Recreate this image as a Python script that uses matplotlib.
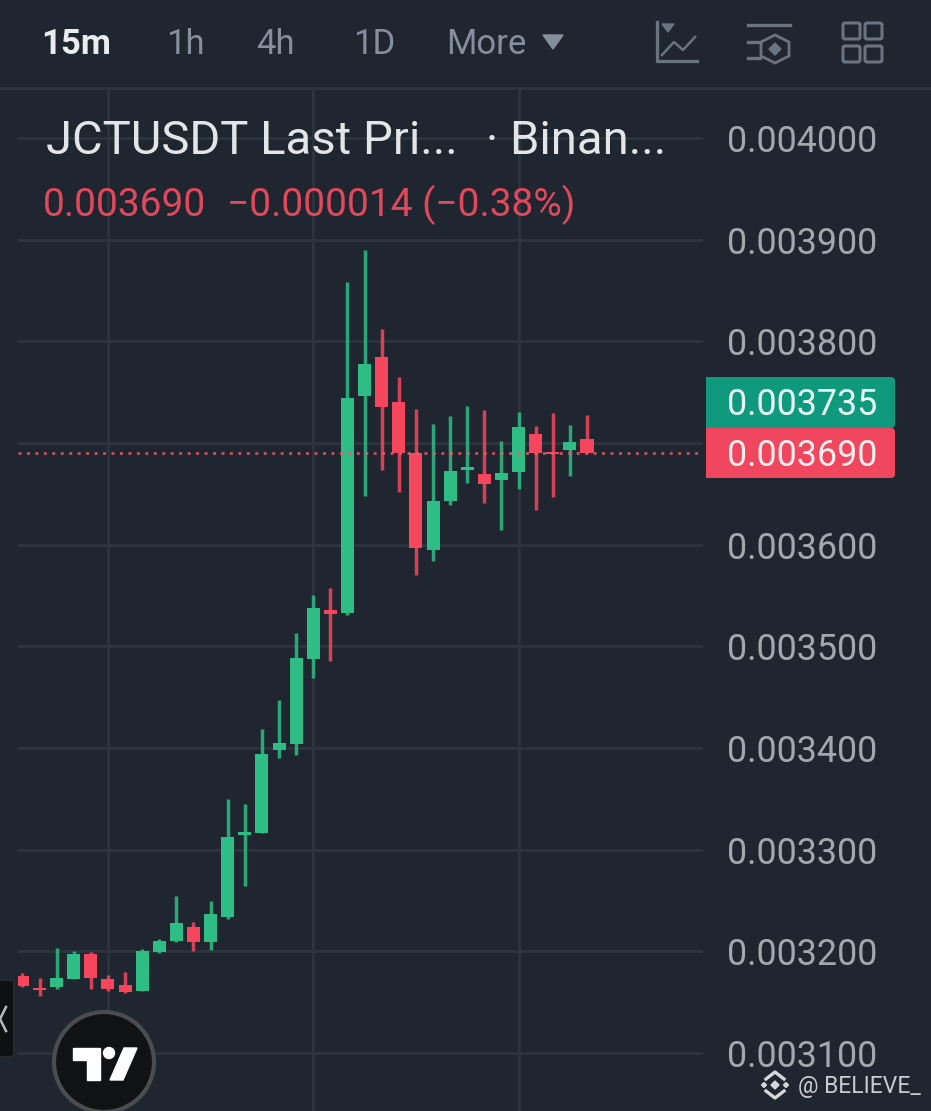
import numpy as np
import matplotlib
matplotlib.use('Agg')
import matplotlib.pyplot as plt
from matplotlib.patches import Circle, FancyBboxPatch, Polygon, Rectangle

plt.rcParams['font.family'] = ['Roboto', 'DejaVu Sans']

# prices in millionths of USDT
opens = [3176, 3164, 3165, 3173, 3197, 3173, 3167, 3161, 3199, 3210, 3224, 3209,
         3234, 3314, 3316, 3398, 3404, 3487, 3536, 3533, 3746, 3784, 3740, 3690,
         3595, 3643, 3673, 3669, 3664, 3671, 3709, 3691, 3693, 3704]
closes = [3166, 3162, 3174, 3197, 3174, 3163, 3160, 3200, 3210, 3228, 3209, 3237,
          3312, 3317, 3394, 3405, 3488, 3538, 3532, 3744, 3778, 3735, 3690, 3597,
          3643, 3672, 3676, 3660, 3670, 3716, 3690, 3689, 3701, 3690]
highs = [3179, 3174, 3203, 3200, 3199, 3177, 3180, 3202, 3212, 3254, 3229, 3250,
         3350, 3345, 3419, 3447, 3513, 3550, 3557, 3858, 3890, 3812, 3765, 3733,
         3719, 3726, 3736, 3732, 3702, 3730, 3717, 3729, 3718, 3727]
lows = [3165, 3156, 3163, 3173, 3163, 3161, 3159, 3161, 3198, 3209, 3200, 3201,
        3232, 3264, 3316, 3390, 3393, 3469, 3486, 3531, 3648, 3673, 3652, 3570,
        3584, 3639, 3661, 3641, 3614, 3655, 3634, 3647, 3667, 3690]
price_ticks = [3100, 3200, 3300, 3400, 3500, 3600, 3700, 3800, 3900, 4000]
time_ticks = [5, 17, 29]
last_price = 3690
mark_price = 3735
intervals = ['15m', '1h', '4h', '1D', 'More']
interval_x = [41, 166, 256, 353, 446]

BG = '#1f2630'
GRID = '#2d343d'
GREEN = '#2ebd85'
RED = '#f6465d'
MUTED = '#848e9c'
TICK = '#a3a8ae'

W, H = 931, 1111
fig = plt.figure(figsize=(W / 100, H / 100), dpi=100, facecolor=BG)

# chart area, pixel rect 18..703 / 88..1111
ax = fig.add_axes([18 / W, 0, (703 - 18) / W, (H - 88) / H], facecolor=BG)
ax.set_xlim(-0.257, 39.78)
ax.set_ylim(3043, 4049)
for s in ax.spines.values():
    s.set_visible(False)
ax.set_axisbelow(True)
ax.grid(True, color=GRID, lw=2)
ax.set_xticks(time_ticks)
ax.set_xticklabels([])
ax.set_yticks(price_ticks)
# the 0.003700 label sits under the price tags, so it stays blank
ax.set_yticklabels(['' if p == 3700 else '%.6f' % (p * 1e-6) for p in price_ticks],
                   fontsize=25.8, color=TICK)
ax.yaxis.tick_right()
ax.tick_params(length=0, pad=17.5)
ax.tick_params(axis='x', length=0)

xs = np.arange(len(opens))
o = np.array(opens)
c = np.array(closes)
colors = [GREEN if b >= a else RED for a, b in zip(o, c)]
ax.vlines(xs, lows, highs, colors=colors, lw=2.5, alpha=0.85, zorder=3)
ax.bar(xs, np.abs(c - o), bottom=np.minimum(o, c), width=0.76, color=colors, zorder=4)
ax.axhline(last_price, color='#e0606f', lw=2.1, ls=(0, (1, 1.9)), alpha=0.8, zorder=5)

# overlay in pixel coordinates for the app chrome
ov = fig.add_axes([0, 0, 1, 1], facecolor='none')
ov.set_xlim(0, W)
ov.set_ylim(H, 0)
ov.axis('off')

ov.plot([0, W], [88, 88], color=GRID, lw=2)
for i, (label, x) in enumerate(zip(intervals, interval_x)):
    ov.text(x, 45, label, fontsize=25, color='#eaecef' if i == 0 else MUTED,
            weight='bold' if i == 0 else 'normal', va='center', ha='left')
ov.add_patch(Polygon([(543, 35), (563, 35), (553, 49)], color=MUTED))

ICON = '#6a7380'
# chart type icon
ov.plot([657, 657, 697], [22, 61, 61], color=ICON, lw=2.4)
ov.add_patch(Polygon([(662, 24), (674, 24), (668, 32)], color=ICON))
ov.plot([662, 674, 683, 695], [55, 42, 50, 37], color=ICON, lw=1.8)
# indicators icon
ov.plot([748, 790], [25, 25], color=ICON, lw=2.4)
ov.plot([748, 760], [42, 42], color=ICON, lw=2.4)
ov.plot([748, 760], [58, 58], color=ICON, lw=2.4)
ov.add_patch(Polygon([(775, 35), (789, 42), (789, 56), (775, 63), (761, 56), (761, 42)],
                     fill=False, ec=ICON, lw=2))
ov.add_patch(Polygon([(775, 43), (781, 49), (775, 55), (769, 49)], color=ICON))
# layout icon
for x0 in (843, 865):
    for y0 in (23, 46):
        ov.add_patch(FancyBboxPatch((x0 + 2, y0 + 2), 13, 12, boxstyle='round,pad=2',
                                    fill=False, ec=ICON, lw=2.2))

ov.text(46, 141, 'JCTUSDT Last Pri...', fontsize=34, color='#e3e5e8', va='center', ha='left')
ov.text(486, 141, '· Binan...', fontsize=34, color='#e3e5e8', va='center', ha='left')
ov.text(43, 205, '0.003690', fontsize=28, color='#e0485c', va='center', ha='left')
ov.text(227, 205, '\u22120.000014 (\u22120.38%)', fontsize=28, color='#e0485c', va='center', ha='left')

# price tags
ov.add_patch(FancyBboxPatch((710, 381), 181, 43, boxstyle='round,pad=4', color='#0f9a7e', lw=0))
ov.add_patch(Rectangle((706, 377), 10, 51, color='#0f9a7e', lw=0))
ov.add_patch(FancyBboxPatch((710, 432), 181, 42, boxstyle='round,pad=4', color='#f0465e', lw=0))
ov.add_patch(Rectangle((706, 428), 10, 50, color='#f0465e', lw=0))
ov.text(727, 405, '%.6f' % (mark_price * 1e-6), fontsize=25.8, color='#e8fbf6', va='center', ha='left')
ov.text(727, 456, '%.6f' % (last_price * 1e-6), fontsize=25.8, color='#fdeef0', va='center', ha='left')

# side tab
ov.add_patch(FancyBboxPatch((-20, 984), 30, 69, boxstyle='round,pad=4', fc='#0f1012', ec='#26292e', lw=1.5))
ov.plot([6, 0, 6], [1007, 1019, 1031], color='#b8babd', lw=1.8)

# tradingview logo
ov.add_patch(Circle((104, 1062), 50, fc='#111214', ec='#4a4c50', lw=3))
ov.add_patch(Polygon([(73, 1048), (100, 1048), (100, 1080), (87, 1080), (87, 1060), (73, 1060)], color='white'))
ov.add_patch(Circle((109, 1053), 5.5, color='white'))
ov.add_patch(Polygon([(124, 1048), (137, 1048), (123, 1080), (110, 1080)], color='white'))

# watermark
for cx, cy, r in [(775, 1085, 4), (764, 1085, 2.5), (786, 1085, 2.5)]:
    ov.add_patch(Polygon([(cx, cy - r), (cx + r, cy), (cx, cy + r), (cx - r, cy)], color='#d5d7da'))
ov.plot([766, 775, 784], [1079, 1072, 1079], color='#d5d7da', lw=2.4)
ov.plot([766, 775, 784], [1091, 1098, 1091], color='#d5d7da', lw=2.4)
ov.text(798, 1086, '@ BELIEVE_', fontsize=16.5, color='#c8cbcf', va='center', ha='left')

fig.savefig('out.png', dpi=100, facecolor=BG)
